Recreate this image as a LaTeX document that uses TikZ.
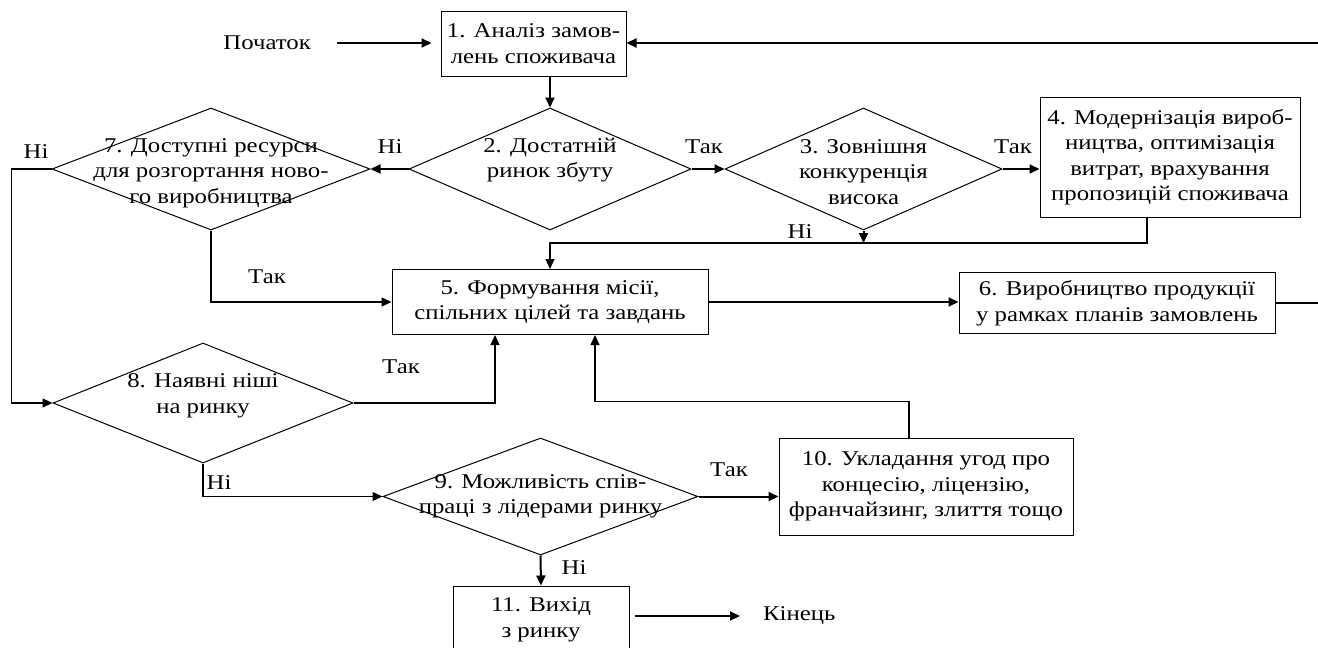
\documentclass[tikz,border=0pt]{standalone}
\usepackage{fontspec}
\setmainfont{Liberation Serif}[FakeStretch=1.18]
\usetikzlibrary{shapes.geometric,arrows.meta}
\begin{document}
\begin{tikzpicture}[x=1pt,y=-1pt,font=\fontsize{21}{25.5}\selectfont,
    box/.style={draw, line width=1pt, align=center, inner xsep=3pt, inner ysep=2pt},
    decision/.style={draw, diamond, line width=1pt, inner sep=0pt},
    dtext/.style={align=center},
    line/.style={line width=1.2pt},
    arr/.style={line width=1.2pt, -{Triangle[length=10pt,width=9pt]}},
    barr/.style={line width=2pt, -{Triangle[length=10pt,width=9pt]}}]
  \useasboundingbox (0,0) rectangle (1318,648);

  \node[anchor=east, inner sep=0pt] (start) at (311,43) {Початок};
  \node[box, minimum width=185pt, minimum height=65pt] (b1) at (533.5,43.5) {1. Аналіз замов-\\лень споживача};
  \node[decision, minimum width=282pt, minimum height=122pt, label={[dtext,yshift=9pt]center:{2. Достатній\\ринок збуту}}] (d2) at (550,169) {};
  \node[decision, minimum width=277pt, minimum height=122pt, label={[dtext,yshift=-3pt]center:{3. Зовнішня\\конкуренція\\висока}}] (d3) at (863.5,169) {};
  \node[box, minimum width=260pt, minimum height=120pt] (b4) at (1170,157) {4. Модернізація вироб-\\ництва, оптимізація\\витрат, врахування\\пропозицій споживача};
  \node[decision, minimum width=318pt, minimum height=122pt, label={[dtext,yshift=-4pt]center:{7. Доступні ресурси\\для розгортання ново-\\го виробництва}}] (d7) at (211,169) {};
  \node[box, minimum width=316pt, minimum height=65pt] (b5) at (550,302) {5. Формування місії,\\спільних цілей та завдань};
  \node[box, minimum width=316pt, minimum height=61pt] (b6) at (1117,303) {6. Виробництво продукції\\у рамках планів замовлень};
  \node[decision, minimum width=300pt, minimum height=120pt, label={[dtext,yshift=7pt]center:{8. Наявні ніші\\на ринку}}] (d8) at (203,403) {};
  \node[decision, minimum width=315pt, minimum height=117pt, label={[dtext]center:{9. Можливість спів-\\праці з лідерами ринку}}] (d9) at (540.5,496.5) {};
  \node[box, minimum width=294pt, minimum height=97pt] (b10) at (926,486.5) {10. Укладання угод про\\концесію, ліцензію,\\франчайзинг, злиття тощо};
  \node[box, minimum width=176pt, minimum height=68pt] (b11) at (541,620) {11. Вихід\\з ринку};
  \node[anchor=west, inner sep=0pt] (end) at (763,616) {Кінець};

  \node (no1) at (36,152) {Ні};
  \node (no2) at (390,147) {Ні};
  \node (yes1) at (704,147) {Так};
  \node (yes2) at (1013,147) {Так};
  \node (no3) at (800,232) {Ні};
  \node (yes3) at (267,277) {Так};
  \node (yes4) at (401,367) {Так};
  \node (no4) at (219,483) {Ні};
  \node (yes5) at (729,470) {Так};
  \node (no5) at (574,568) {Ні};

  \coordinate (loop) at (1340,43);
  \coordinate (bus) at (550,243);

  \draw[barr, shorten <=26pt, shorten >=9pt] (start.east) -- (start.east -| b1.west);
  \draw[line] (b6.east) -- (b6.east -| loop) -- (loop);
  \draw[barr] (loop) -- (loop -| b1.east);
  \draw[barr] (b1.south -| d2.north) -- (d2.north);
  \draw[barr] (d2.west) -- (d7.east);
  \draw[barr] (d2.east) -- (d3.west);
  \draw[barr] (d3.east) -- (d3.east -| b4.west);
  \draw[barr] (d3.south) -- (d3.south |- bus);
  \draw[arr] ([xshift=-23pt]b4.south) |- (bus) -- (b5.north);
  \draw[arr] (d7.south) |- (b5.west);
  \draw[arr] (d7.west) -- ++(-40,0) |- (d8.west);
  \draw[arr] (d8.east) -| ([xshift=-55pt]b5.south);
  \draw[arr] ([xshift=-17pt]b10.north) -- ++(0,-36) -| ([xshift=45pt]b5.south);
  \draw[barr] (b5.east) -- (b5.east -| b6.west);
  \draw[arr] (d8.south) |- (d9.west);
  \draw[barr] (d9.east) -- (d9.east -| b10.west);
  \draw[barr] (d9.south) -- (b11.north);
  \draw[barr, shorten <=5pt, shorten >=23pt] (b11.east |- end.west) -- (end.west);
\end{tikzpicture}
\end{document}
